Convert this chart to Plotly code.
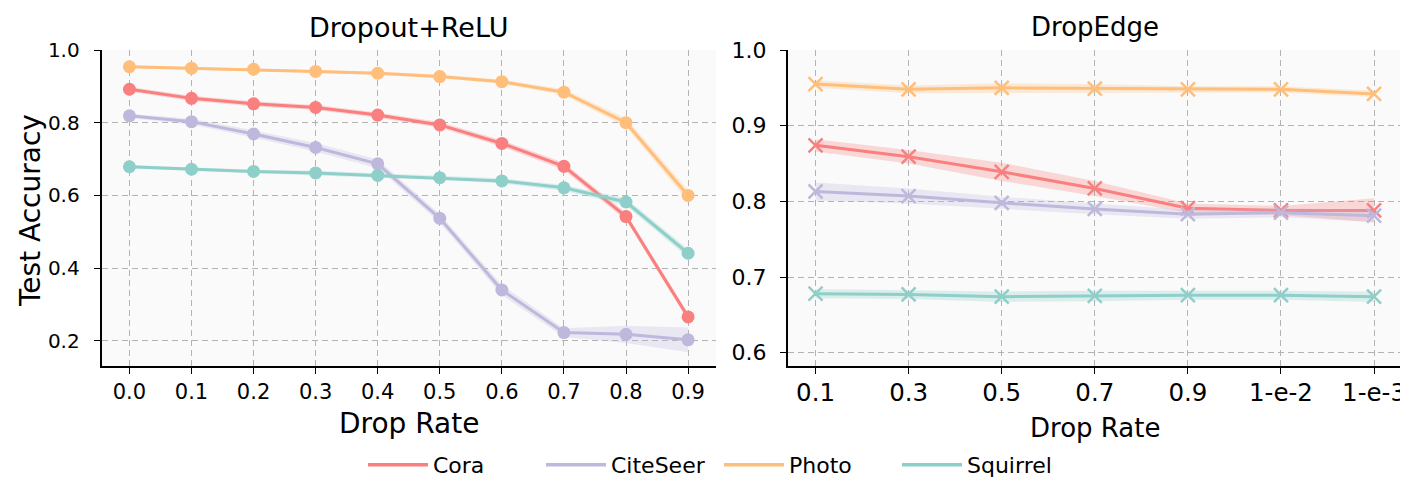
import plotly.graph_objects as go

# ---------------- data ----------------
datasets = ["Cora", "CiteSeer", "Photo", "Squirrel"]
colors = ["#FA7F7F", "#BEB8DC", "#FFBE7A", "#8ECFC9"]

dropout_rates = [0.0, 0.1, 0.2, 0.3, 0.4, 0.5, 0.6, 0.7, 0.8, 0.9]
dropout_ticks = ["0.0", "0.1", "0.2", "0.3", "0.4", "0.5", "0.6", "0.7", "0.8", "0.9"]

cora_drop = [0.892, 0.867, 0.852, 0.842, 0.821, 0.794, 0.743, 0.680, 0.542, 0.266]
citeseer_drop = [0.819, 0.803, 0.769, 0.732, 0.687, 0.537, 0.340, 0.223, 0.218, 0.203]
photo_drop = [0.954, 0.950, 0.947, 0.941, 0.936, 0.927, 0.913, 0.884, 0.800, 0.600]
squirrel_drop = [0.679, 0.672, 0.666, 0.662, 0.655, 0.649, 0.640, 0.621, 0.582, 0.441]

cora_drop_std = [0.006, 0.007, 0.007, 0.007, 0.007, 0.008, 0.009, 0.010, 0.010, 0.010]
citeseer_drop_std = [0.006, 0.008, 0.010, 0.012, 0.012, 0.012, 0.014, 0.012, 0.024, 0.034]
photo_drop_std = [0.004, 0.004, 0.004, 0.004, 0.004, 0.005, 0.006, 0.008, 0.012, 0.016]
squirrel_drop_std = [0.005, 0.005, 0.005, 0.006, 0.006, 0.006, 0.007, 0.008, 0.010, 0.012]

edge_rates = ["0.1", "0.3", "0.5", "0.7", "0.9", "1-e-2", "1-e-3"]

cora_edge = [0.874, 0.859, 0.839, 0.817, 0.791, 0.788, 0.788]
citeseer_edge = [0.813, 0.807, 0.798, 0.790, 0.783, 0.785, 0.781]
photo_edge = [0.955, 0.948, 0.950, 0.949, 0.948, 0.948, 0.942]
squirrel_edge = [0.678, 0.677, 0.674, 0.675, 0.676, 0.676, 0.674]

cora_edge_std = [0.008, 0.009, 0.012, 0.010, 0.006, 0.006, 0.016]
citeseer_edge_std = [0.012, 0.010, 0.008, 0.007, 0.006, 0.006, 0.008]
photo_edge_std = [0.005, 0.005, 0.006, 0.006, 0.004, 0.004, 0.004]
squirrel_edge_std = [0.006, 0.006, 0.007, 0.007, 0.006, 0.006, 0.007]

left_yticks = [0.2, 0.4, 0.6, 0.8, 1.0]
right_yticks = [0.6, 0.7, 0.8, 0.9, 1.0]

drop_means = [cora_drop, citeseer_drop, photo_drop, squirrel_drop]
drop_stds = [cora_drop_std, citeseer_drop_std, photo_drop_std, squirrel_drop_std]
edge_means = [cora_edge, citeseer_edge, photo_edge, squirrel_edge]
edge_stds = [cora_edge_std, citeseer_edge_std, photo_edge_std, squirrel_edge_std]

FONT = "DejaVu Sans"


def rgba(hexc, a):
    h = hexc.lstrip("#")
    r, g, b = int(h[0:2], 16), int(h[2:4], 16), int(h[4:6], 16)
    return f"rgba({r},{g},{b},{a})"


fig = go.Figure()

# ---- left panel: Dropout+ReLU ----
for name, col, m, s in zip(datasets, colors, drop_means, drop_stds):
    up = [a + b for a, b in zip(m, s)]
    lo = [a - b for a, b in zip(m, s)]
    fig.add_trace(go.Scatter(
        x=dropout_rates + dropout_rates[::-1], y=up + lo[::-1],
        fill="toself", fillcolor=rgba(col, 0.28), line=dict(width=0),
        mode="lines", showlegend=False, hoverinfo="skip",
        xaxis="x", yaxis="y"))
    fig.add_trace(go.Scatter(
        x=dropout_rates, y=m, mode="lines+markers", name=name,
        line=dict(color=col, width=3),
        marker=dict(symbol="circle", size=13, color=col),
        showlegend=False, xaxis="x", yaxis="y"))

# ---- right panel: DropEdge ----
for name, col, m, s in zip(datasets, colors, edge_means, edge_stds):
    up = [a + b for a, b in zip(m, s)]
    lo = [a - b for a, b in zip(m, s)]
    fig.add_trace(go.Scatter(
        x=edge_rates + edge_rates[::-1], y=up + lo[::-1],
        fill="toself", fillcolor=rgba(col, 0.28), line=dict(width=0),
        mode="lines", showlegend=False, hoverinfo="skip",
        xaxis="x2", yaxis="y2"))
    fig.add_trace(go.Scatter(
        x=edge_rates, y=m, mode="lines+markers", name=name,
        line=dict(color=col, width=3),
        marker=dict(symbol="x-thin", size=14, color=col,
                    line=dict(color=col, width=2.5)),
        showlegend=False, xaxis="x2", yaxis="y2"))

# legend entries (lines only)
for name, col in zip(datasets, colors):
    fig.add_trace(go.Scatter(
        x=[None], y=[None], mode="lines", name=name,
        line=dict(color=col, width=3.5), showlegend=True,
        xaxis="x", yaxis="y"))

W, H = 1408, 477
OFF = 8  # page body margin offset


def px(v):
    return (v - OFF) / W


def py(v):
    return 1 - (v - OFF) / H


axis_common = dict(
    showline=True, linecolor="black", linewidth=1.6, mirror=False,
    ticks="outside", ticklen=6, tickwidth=1.4, tickcolor="black",
    showgrid=True, gridcolor="#b3b3b3", gridwidth=1, griddash="6px,4px",
    zeroline=False, automargin=False,
)

L0, L1 = 101.5, 716.0
R0, R1 = 787.6, 1402.0
TOP, BOT = 50.0, 366.0

fig.update_layout(
    width=W, height=H,
    margin=dict(l=0, r=0, t=0, b=0, autoexpand=False),
    paper_bgcolor="white",
    plot_bgcolor="#FAFAFA",
    font=dict(family=FONT, color="black"),
    showlegend=True,
    legend=dict(orientation="h", x=px(363), xanchor="left", y=py(465), yanchor="middle",
                font=dict(size=22, family=FONT), bgcolor="rgba(0,0,0,0)",
                itemwidth=60, entrywidth=103, entrywidthmode="pixels",
                traceorder="normal"),
    xaxis=dict(domain=[px(L0), px(L1)], range=[-0.045, 0.945],
               tickvals=dropout_rates, ticktext=dropout_ticks,
               tickfont=dict(size=21), ticklabelstandoff=0, anchor="y", **axis_common),
    yaxis=dict(domain=[py(BOT), py(TOP)], range=[0.131, 1.0],
               tickvals=left_yticks, tickformat=".1f",
               tickfont=dict(size=20), ticklabelstandoff=10, anchor="x", **axis_common),
    xaxis2=dict(domain=[px(R0), px(R1)], type="category", range=[-0.3, 6.3],
                tickfont=dict(size=24.5), ticklabelstandoff=-2, anchor="y2", **axis_common),
    yaxis2=dict(domain=[py(BOT), py(TOP)], range=[0.5824, 1.0],
                tickvals=right_yticks, tickformat=".1f",
                tickfont=dict(size=22), ticklabelstandoff=9, anchor="x2", **axis_common),
    annotations=[
        dict(text="Dropout+ReLU", x=px((L0 + L1) / 2), y=py(27),
             xref="paper", yref="paper", showarrow=False, font=dict(size=27),
             xanchor="center", yanchor="middle"),
        dict(text="DropEdge", x=px((R0 + R1) / 2), y=py(27),
             xref="paper", yref="paper", showarrow=False, font=dict(size=26),
             xanchor="center", yanchor="middle"),
        dict(text="Drop Rate", x=px((L0 + L1) / 2), y=py(423),
             xref="paper", yref="paper", showarrow=False, font=dict(size=28),
             xanchor="center", yanchor="middle"),
        dict(text="Drop Rate", x=px((R0 + R1) / 2), y=py(428),
             xref="paper", yref="paper", showarrow=False, font=dict(size=26),
             xanchor="center", yanchor="middle"),
        dict(text="Test Accuracy", x=px(30), y=py(211), textangle=-90,
             xref="paper", yref="paper", showarrow=False, font=dict(size=28),
             xanchor="center", yanchor="middle"),
    ],
)

fig.write_html("out.html")
